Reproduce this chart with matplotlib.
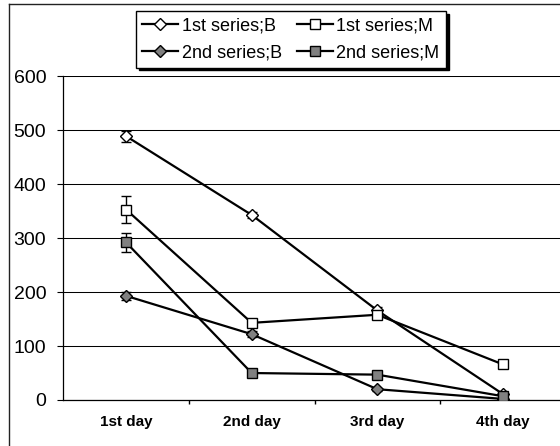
import numpy as np
import matplotlib
matplotlib.use('Agg')
import matplotlib.pyplot as plt
from matplotlib.lines import Line2D

plt.rcParams['font.family'] = ['Liberation Sans', 'DejaVu Sans']

## data
days = ['1st day', '2nd day', '3rd day', '4th day']
s1_B = [489, 343, 166, 11]
s1_M = [353, 143, 158, 66]
s2_B = [193, 122, 20, 2]
s2_M = [292, 50, 47, 7]
err_1B = [10, 5, 6, 3]
err_1M = [25, 8, 6, 5]
err_2B = [8, 6, 3, 2]
err_2M = [17, 4, 4, 3]
yticks = [0, 100, 200, 300, 400, 500, 600]

fig = plt.figure(figsize=(5.6, 4.46), dpi=100)
W, H = 560.0, 446.0
# plot area runs past the right edge of the picture (cropped chart)
ax = fig.add_axes([63.3/W, 46/H, (565.7-63.3)/W, 323.7/H])

x = np.arange(len(days))
series = [
    (s1_B, err_1B, 'D', 'white', 5.8, '1st series;B'),
    (s1_M, err_1M, 's', 'white', 7, '1st series;M'),
    (s2_B, err_2B, 'D', '#808080', 5.8, '2nd series;B'),
    (s2_M, err_2M, 's', '#808080', 7, '2nd series;M'),
]
handles = {}
for vals, err, mk, fc, ms, lab in series:
    ax.errorbar(x, vals, yerr=err, fmt='none', ecolor='black', elinewidth=1,
                capsize=3.6, capthick=1, zorder=3)
    ln, = ax.plot(x, vals, color='black', lw=1.6, marker=mk, ms=ms,
                  mfc=fc, mec='black', mew=1, label=lab, zorder=4)
    handles[lab] = ln

ax.set_xlim(-0.5, 3.5)
ax.set_ylim(0, 600)
ax.set_yticks(yticks)
ax.set_yticklabels([str(v) for v in yticks], fontsize=14)
ax.set_xticks(x)
ax.set_xticklabels(days, fontsize=11, fontweight='bold')
ax.set_xticks([0.5, 1.5, 2.5], minor=True)
ax.tick_params(axis='x', which='major', length=0, pad=11)
ax.tick_params(axis='x', which='minor', length=3, width=1, direction='out')
ax.tick_params(axis='y', length=4.3, width=0.8, direction='out', pad=8)
ax.yaxis.grid(True, color='black', lw=0.75)
ax.set_axisbelow(True)
for s in ['top', 'right']:
    ax.spines[s].set_visible(False)
ax.spines['left'].set_linewidth(0.9)
ax.spines['bottom'].set_linewidth(0.9)
ax.spines['bottom'].set_zorder(2.5)

order = ['1st series;B', '2nd series;B', '1st series;M', '2nd series;M']
leg = fig.legend([handles[k] for k in order], order, ncol=2, loc='upper left',
                 bbox_to_anchor=(136/W, 1 - 11/H), borderaxespad=0,
                 fontsize=13, frameon=True, fancybox=False, shadow={'color': 'black', 'alpha': 1},
                 edgecolor='black', framealpha=1, handlelength=2.0,
                 handletextpad=0.2, columnspacing=0.8, labelspacing=0.55,
                 borderpad=0.35)
leg.get_frame().set_linewidth(1)

# outer chart border (left and top sides visible)
fig.add_artist(Line2D([8.7/W, 8.7/W], [0, 1 - 4/H], color='#222222', lw=1,
                      transform=fig.transFigure))
fig.add_artist(Line2D([8.7/W, 1], [1 - 4/H, 1 - 4/H], color='#222222', lw=1,
                      transform=fig.transFigure))

fig.savefig('out.png', dpi=100)
